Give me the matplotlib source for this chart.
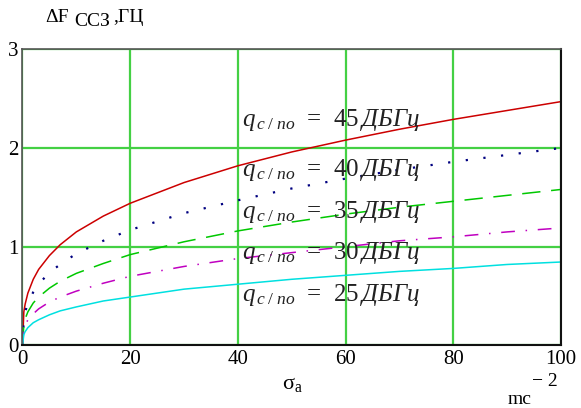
import matplotlib
matplotlib.use("Agg")
import matplotlib.pyplot as plt

plt.rcParams['font.family'] = ['Liberation Serif', 'DejaVu Serif']
plt.rcParams['mathtext.fontset'] = 'custom'
plt.rcParams['mathtext.rm'] = 'Liberation Serif'
plt.rcParams['mathtext.it'] = 'Liberation Serif:italic'

# sigma_a values
sigma = [0, 0.25, 0.5, 1, 2, 3, 5, 7, 10, 15, 20, 30, 40, 50, 60, 70, 80, 90, 100]

# dF_ssz for each q_c/no (dB-Hz)
df_45 = [0, 0.34, 0.42, 0.53, 0.67, 0.77, 0.91, 1.02, 1.15, 1.31, 1.44, 1.65, 1.82, 1.96, 2.08, 2.19, 2.29, 2.38, 2.47]
df_40 = [0, 0.27, 0.34, 0.43, 0.54, 0.62, 0.74, 0.82, 0.93, 1.06, 1.17, 1.34, 1.47, 1.59, 1.69, 1.78, 1.86, 1.93, 2.00]
df_35 = [0, 0.21, 0.27, 0.34, 0.43, 0.49, 0.58, 0.65, 0.73, 0.83, 0.92, 1.05, 1.16, 1.25, 1.33, 1.40, 1.46, 1.52, 1.58]
df_30 = [0, 0.16, 0.20, 0.26, 0.32, 0.37, 0.44, 0.49, 0.55, 0.63, 0.70, 0.80, 0.88, 0.94, 1.00, 1.06, 1.10, 1.15, 1.19]
df_25 = [0, 0.11, 0.14, 0.18, 0.23, 0.26, 0.31, 0.35, 0.39, 0.45, 0.49, 0.57, 0.62, 0.67, 0.71, 0.75, 0.78, 0.82, 0.845]

levels = ["45", "40", "35", "30", "25"]
label_y = [2.28, 1.78, 1.35, 0.94, 0.51]

fig = plt.figure(figsize=(5.81, 4.08), dpi=100)
ax = fig.add_axes([0.0387, 0.1534, 0.927, 0.7258])

ax.plot(sigma, df_45, color='#cc0000', lw=1.1, ls='-')
ax.plot(sigma, df_40, color='#000080', lw=1.6, ls=(0, (1, 7)))
ax.plot(sigma, df_35, color='#00c800', lw=1.1, ls=(0, (12, 7)))
ax.plot(sigma, df_30, color='#c000c0', lw=1.1, ls=(0, (9, 7, 1, 7)))
ax.plot(sigma, df_25, color='#00e0e0', lw=1.1, ls='-')

for lev, y in zip(levels, label_y):
    ax.text(40.7, y, r"$q_{\,c\;/\;no}$  =  " + lev + r"$\,\mathit{ДБГц}$",
            fontsize=18, va='center', ha='left', color='#222222')

ax.set_xlim(0, 100)
ax.set_ylim(0, 3)
ax.set_xticks([0, 20, 40, 60, 80, 100])
ax.set_yticks([0, 1, 2, 3])
ax.grid(True, color='#44d044', lw=1.6)
ax.set_axisbelow(True)
ax.tick_params(length=0, labelsize=15, pad=3)
for side in ['left', 'top']:
    ax.spines[side].set_color('#555555')
    ax.spines[side].set_linewidth(1.2)
for side in ['right', 'bottom']:
    ax.spines[side].set_color('#111111')
    ax.spines[side].set_linewidth(1.5)

# y-axis title pieces
fig.text(45 / 581, 1 - 17 / 408, "ΔF", fontsize=14, ha='left', va='center')
fig.text(74 / 581, 1 - 22 / 408, "ССЗ", fontsize=14, ha='left', va='center')
fig.text(113 / 581, 1 - 17 / 408, ",ГЦ", fontsize=14, ha='left', va='center')

# x-axis title and units
fig.text(282 / 581, 1 - 384 / 408, r"σ$_{\mathrm{a}}$", fontsize=16, ha='left', va='center')
fig.text(508 / 581, 1 - 400 / 408, "mc", fontsize=14, ha='left', va='center')
fig.text(532 / 581, 1 - 381 / 408, "− 2", fontsize=14, ha='left', va='center')

fig.savefig("out.png", dpi=100)
